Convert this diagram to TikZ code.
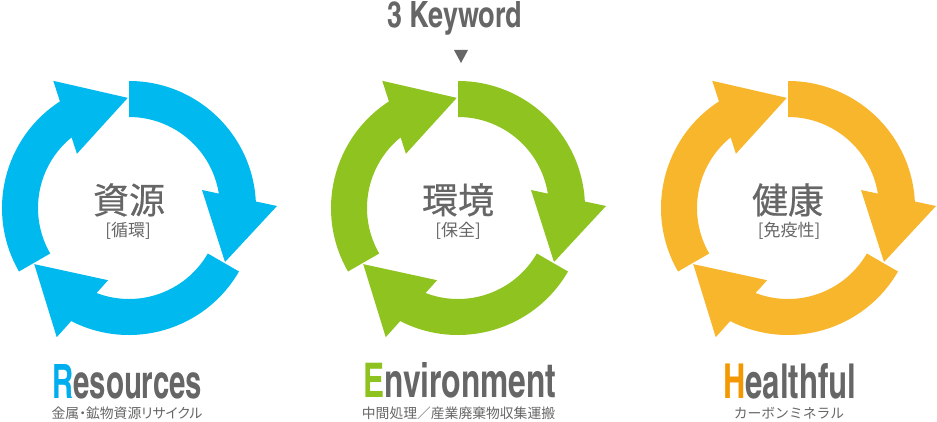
\documentclass[tikz,border=0pt]{standalone}
\usepackage{fontspec}
\usepackage{graphicx}
\newfontfamily\cjk{Noto Sans CJK JP}
\newfontfamily\cjkb[FakeBold=0.5]{Noto Sans CJK JP}
\newfontfamily\cjkp[RawFeature=+palt]{Noto Sans CJK JP}
\newfontfamily\cond{texgyreheroscn-bold.otf}
\definecolor{cblue}{HTML}{00B9EF}
\definecolor{cgreen}{HTML}{8FC31F}
\definecolor{corange}{HTML}{F8B62D}
\definecolor{hblue}{HTML}{00AEEF}
\definecolor{hgreen}{HTML}{8DC21F}
\definecolor{horange}{HTML}{F39800}
\definecolor{tgray}{HTML}{666666}
\newcommand\cyclesegment{(90:127) arc[start angle=90,end angle=2.94,radius=127] -- (148,2) -- (96,-54) -- (73,18) -- (9.11:91) arc[start angle=9.11,end angle=90,radius=91] -- cycle}
\begin{document}
\begin{tikzpicture}[x=1pt,y=1pt,
  bigcjk/.style={anchor=base,inner sep=0pt,text=tgray,font=\cjkb\fontsize{36}{36}\selectfont},
  smallcjk/.style={anchor=base,inner sep=0pt,text=tgray,font=\cjk\fontsize{17}{17}\selectfont},
  subcjk/.style={anchor=base,inner sep=0pt,text=tgray,font=\cjk\fontsize{13.8}{13.8}\selectfont},
  title/.style={anchor=base west,inner sep=0pt,text=tgray,font=\cond\fontsize{40}{40}\selectfont}]
\useasboundingbox (0,0) rectangle (937,421);
% cycles
\begin{scope}[shift={(129,213)}]
  \foreach \r in {0,-120,-240} \fill[cblue,rotate=\r] \cyclesegment;
\end{scope}
\begin{scope}[shift={(458,213)}]
  \foreach \r in {0,-120,-240} \fill[cgreen,rotate=\r] \cyclesegment;
\end{scope}
\begin{scope}[shift={(788,213)}]
  \foreach \r in {0,-120,-240} \fill[corange,rotate=\r] \cyclesegment;
\end{scope}
% centre texts
\node[bigcjk] (c1) at (129,207.5) {資源};
\node[smallcjk] (s1) at (128,184.5) {[循環]};
\node[bigcjk] (c2) at (458,207.5) {環境};
\node[smallcjk] (s2) at (458,184.5) {[保全]};
\node[bigcjk] (c3) at (788,207.5) {健康};
\node[smallcjk] (s3) at (789,184.5) {[免疫性]};
% keyword
\node[title] (kw) at (387,393) {\resizebox{135pt}{26pt}{3 Keyword}};
\fill[tgray] (454,371) -- (468,371) -- (461,358) -- cycle;
% titles
\node[title] (t1) at (52,23) {\resizebox{150pt}{34pt}{\textcolor{hblue}{R}esources}};
\node[title] (t2) at (363,24) {\resizebox{193pt}{35pt}{\textcolor{hgreen}{E}nvironment}};
\node[title] (t3) at (723,23) {\resizebox{133pt}{35pt}{\textcolor{horange}{H}ealthful}};
% subtitles
\node[subcjk,font=\cjkp\fontsize{13.8}{13.8}\selectfont] (u1) at (127,2.5) {金属・鉱物資源リサイクル};
\node[subcjk] (u2) at (458.5,2.5) {中間処理／産業廃棄物収集運搬};
\node[subcjk] (u3) at (789,2.5) {カーボンミネラル};
\end{tikzpicture}
\end{document}
